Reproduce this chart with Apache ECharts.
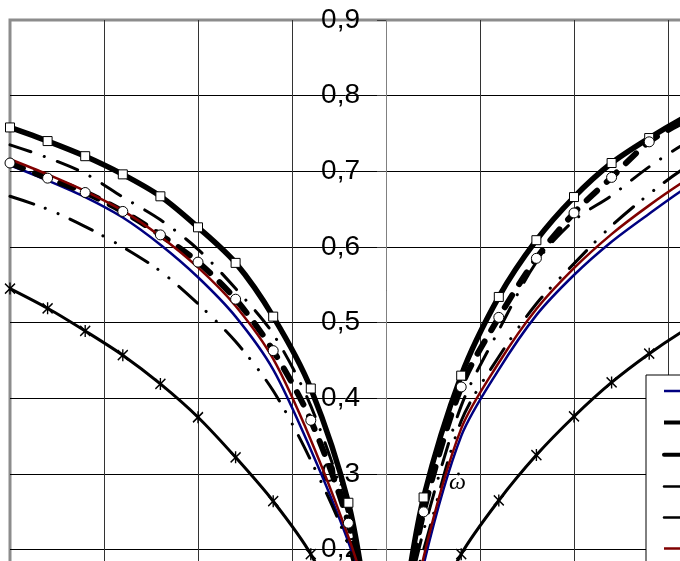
<!DOCTYPE html>
<html><head><meta charset="utf-8">
<script src="https://cdn.jsdelivr.net/npm/echarts@6/dist/echarts.min.js"></script>
<style>html,body{margin:0;padding:0;background:#fff}#c{width:680px;height:561px}</style>
</head><body><div id="c"></div>
<script>
// x positions (left branch, gap at 0, right branch)
const xValues = [-4, -3.6, -3.2, -2.8, -2.4, -2, -1.6, -1.2, -0.8, -0.4, -0.2, 0, 0.2, 0.4, 0.8, 1.2, 1.6, 2, 2.4, 2.8, 3.2, 3.6, 4];
const seriesNames = ['1', '2', '3', '4', '5', '6', '7'];
const blueValues    = [0.708, 0.688, 0.666, 0.639, 0.603, 0.560, 0.508, 0.438, 0.332, 0.210, 0.130, null, 0.040, 0.180, 0.350, 0.438, 0.510, 0.563, 0.607, 0.644, 0.679, 0.707, 0.733];
const squareValues  = [0.758, 0.740, 0.720, 0.696, 0.667, 0.626, 0.579, 0.508, 0.413, 0.262, 0.120, null, 0.130, 0.269, 0.430, 0.534, 0.609, 0.666, 0.711, 0.744, 0.773, 0.798, 0.820];
const circleValues  = [0.711, 0.691, 0.672, 0.647, 0.616, 0.580, 0.531, 0.463, 0.371, 0.235, 0.110, null, 0.117, 0.250, 0.415, 0.507, 0.585, 0.645, 0.692, 0.739, 0.768, 0.790, 0.810];
const dashDotValues = [0.735, 0.718, 0.697, 0.666, 0.636, 0.597, 0.545, 0.485, 0.390, 0.245, 0.110, null, 0.120, 0.225, 0.390, 0.490, 0.580, 0.635, 0.668, 0.706, 0.738, 0.762, 0.785];
const dashDotDotValues = [0.667, 0.650, 0.627, 0.600, 0.568, 0.525, 0.475, 0.410, 0.318, 0.205, 0.100, null, 0.120, 0.200, 0.370, 0.455, 0.525, 0.578, 0.628, 0.670, 0.706, 0.730, 0.755];
const redValues     = [0.716, 0.696, 0.674, 0.648, 0.614, 0.573, 0.522, 0.452, 0.345, 0.217, 0.140, null, 0.050, 0.190, 0.360, 0.447, 0.518, 0.572, 0.617, 0.655, 0.689, 0.718, 0.744];
const starValues    = [0.545, 0.519, 0.489, 0.457, 0.419, 0.375, 0.322, 0.264, 0.194, 0.090, null, null, null, 0.090, 0.194, 0.265, 0.325, 0.376, 0.421, 0.459, 0.492, 0.520, 0.545];
const yMin = 0, yMax = 0.9, yStep = 0.1;
const xMin = -4, xMax = 4, xStep = 1;

function pairs(ys) { return xValues.map((x, i) => [x, ys[i]]); }

const chart = echarts.init(document.getElementById('c'), null, {renderer: 'canvas'});
const option = {
  animation: false,
  backgroundColor: '#fff',
  grid: {left: 10, top: 20, width: 752, height: 681, outerBoundsMode: 'none', containLabel: false,
    show: true, borderColor: '#8c8c8c', borderWidth: 3, backgroundColor: 'transparent'},
  xAxis: {
    type: 'value', min: xMin, max: xMax, interval: xStep,
    axisLine: {show: false, onZero: false}, axisTick: {show: false}, axisLabel: {show: false},
    splitLine: {show: true, showMinLine: false, lineStyle: {color: '#333', width: 1}}
  },
  yAxis: {
    type: 'value', min: yMin, max: yMax, interval: yStep, position: 'left', offset: -376,
    axisLine: {show: true, onZero: false, lineStyle: {color: '#808080', width: 1}},
    axisTick: {show: true, inside: false, length: 9, lineStyle: {color: '#404040'}},
    axisLabel: {margin: 26, fontSize: 28, fontFamily: '"Liberation Sans", Arial, sans-serif', color: '#000',
      formatter: v => v.toFixed(1).replace('.', ',')},
    splitLine: {show: true, showMaxLine: false, lineStyle: {color: '#000', width: 1}}
  },
  legend: {
    orient: 'vertical', left: 646, top: 375, height: 400,
    padding: [10, 5, 5, 16], itemGap: 19, itemWidth: 50, itemHeight: 14,
    borderColor: '#000', borderWidth: 1, backgroundColor: '#fff', borderRadius: 0,
    textStyle: {fontSize: 12, color: '#000'},
    data: [
      {name: seriesNames[0], lineStyle: {width: 2.5}},
      {name: seriesNames[1], lineStyle: {width: 4}},
      {name: seriesNames[2], lineStyle: {width: 4, type: 'solid'}},
      {name: seriesNames[3], lineStyle: {width: 2.5, type: 'solid'}},
      {name: seriesNames[4], lineStyle: {width: 2.5, type: 'solid'}},
      {name: seriesNames[5], lineStyle: {width: 2.5}},
      {name: seriesNames[6], lineStyle: {width: 2.5}}
    ]
  },
  graphic: [
    {type: 'text', left: 449, top: 471, z: 10,
      style: {text: 'ω', font: 'italic 24px "Liberation Serif", "DejaVu Serif", serif', fill: '#000'}},
    {type: 'circle', shape: {cx: 458.5, cy: 474, r: 1.4}, z: 10, style: {fill: '#000'}}
  ],
  series: [
    {name: seriesNames[0], type: 'line', data: pairs(blueValues), smooth: 0.3, symbol: 'none',
      lineStyle: {color: '#000080', width: 2.5}, itemStyle: {color: '#000080'}},
    {name: seriesNames[1], type: 'line', data: pairs(squareValues), smooth: 0.3, symbol: 'rect', symbolSize: 9,
      lineStyle: {color: '#000', width: 5.5}, itemStyle: {color: '#fff', borderColor: '#000', borderWidth: 1}},
    {name: seriesNames[2], type: 'line', data: pairs(circleValues), smooth: 0.3, symbol: 'circle', symbolSize: 10,
      lineStyle: {color: '#000', width: 6, type: [14, 13], cap: 'round'}, itemStyle: {color: '#fff', borderColor: '#000', borderWidth: 1}},
    {name: seriesNames[3], type: 'line', data: pairs(dashDotValues), smooth: 0.3, symbol: 'none',
      lineStyle: {color: '#000', width: 3, type: [22, 14, 0.1, 14], cap: 'round'}, itemStyle: {color: '#000'}},
    {name: seriesNames[4], type: 'line', data: pairs(dashDotDotValues), smooth: 0.3, symbol: 'none',
      lineStyle: {color: '#000', width: 3, type: [25, 12, 0.1, 14, 0.1, 13], cap: 'round'}, itemStyle: {color: '#000'}},
    {name: seriesNames[5], type: 'line', data: pairs(redValues), smooth: 0.3, symbol: 'none',
      lineStyle: {color: '#800000', width: 2.5}, itemStyle: {color: '#800000'}},
    {name: seriesNames[6], type: 'line', data: pairs(starValues), smooth: 0.3,
      symbol: 'path://M0,1L10,11M10,1L0,11M5,0L5,12', symbolSize: [10, 12],
      lineStyle: {color: '#000', width: 3}, itemStyle: {color: 'none', borderColor: '#000', borderWidth: 1.5}}
  ]
};
chart.setOption(option);
</script>
</body></html>
